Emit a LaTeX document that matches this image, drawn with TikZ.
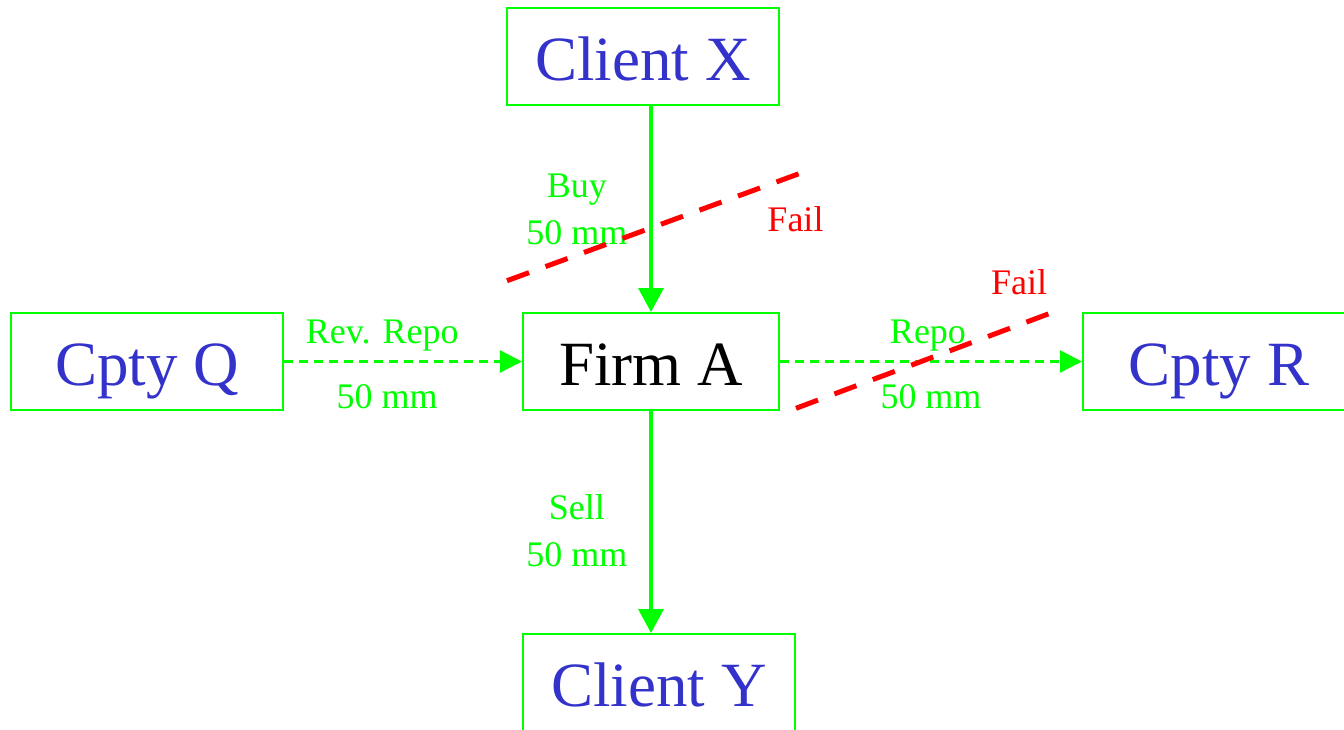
\documentclass[tikz,border=0pt]{standalone}
\usepackage{fontspec}
\setmainfont{Liberation Serif}
\usetikzlibrary{positioning,arrows.meta}
\definecolor{lgreen}{RGB}{0,255,0}
\definecolor{nblue}{RGB}{51,51,204}
\definecolor{fred}{RGB}{255,0,0}

\begin{document}
\begin{tikzpicture}[bx/.style={rectangle, draw=lgreen, line width=1pt, minimum width=136pt, minimum height=48.5pt, inner sep=0pt, text=nblue, font=\fontsize{31.5}{38}\selectfont, text height=24pt, text depth=0pt}, lb/.style={text=lgreen, font=\fontsize{18}{23.5}\selectfont, inner sep=0pt, align=center}, fl/.style={lb, text=fred}, sa/.style={draw=lgreen, line width=1.7pt, -{Triangle[length=12pt,width=12.5pt]}}, da/.style={draw=lgreen, line width=1.2pt, dash pattern=on 4.5pt off 3pt, -{Triangle[length=11pt,width=11pt]}}, rd/.style={draw=fred, line width=2.5pt, dash pattern=on 11.75pt off 8.75pt}]
		\useasboundingbox (-325.5pt,-183.75pt) rectangle (346.5pt,180.75pt);
		\node[bx, text=black, minimum width=128pt] (A) {Firm A};
		\node[bx, above=103pt of A.north east, anchor=south east] (X) {Client X};
		\node[bx, below=111pt of A.south west, anchor=north west] (Y) {Client Y};
		\node[bx, left=119pt of A] (Q) {Cpty Q};
		\node[bx, right=151pt of A] (R) {Cpty R};

		\draw[sa] (X.south -| A.north) -- node[lb, midway, left=11pt] {Buy\\50 mm} (A.north);
		\draw[sa] (A.south) -- node[lb, pos=0.54, left=11pt] {Sell\\50 mm} (A.south |- Y.north);
		\draw[da] (Q) -- node[lb, pos=0.413, above=4.5pt] {Rev. Repo} node[lb, pos=0.433, below=11pt] {50 mm} (A);
		\draw[da] (A) -- node[lb, pos=0.49, above=4.5pt] {Repo} node[lb, pos=0.5, below=11pt] {50 mm} (R);

		% failed legs
		\coordinate (s1) at (-72pt,40.4pt);
		\coordinate (e1) at (75.35pt,94.4pt);
		\coordinate (s2) at (72.5pt,-23.4pt);
		\coordinate (e2) at (199.5pt,24.1pt);
		\draw[rd] (s1) -- (e1);
		\draw[rd] (s2) -- (e2);
		\node[fl] (fail_1) at (72.25pt,71.25pt) {Fail};
		\node[fl] (fail_2) at (184pt,39.5pt) {Fail};
	\end{tikzpicture}
\end{document}
